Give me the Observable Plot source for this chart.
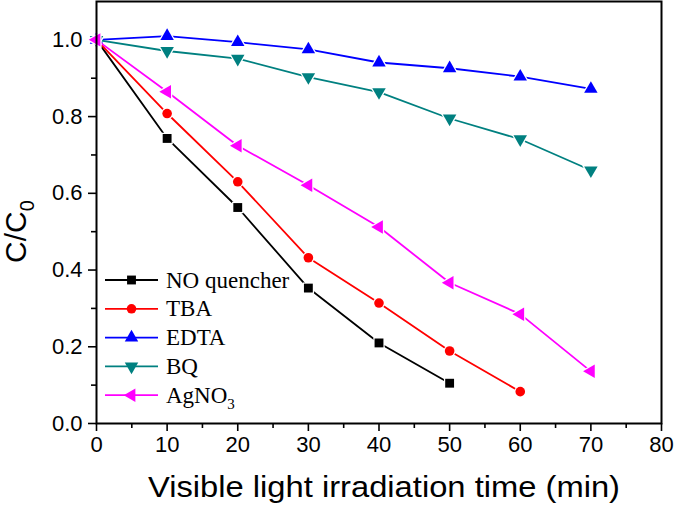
<!DOCTYPE html>
<html>
<head>
<meta charset="utf-8">
<script src="https://cdn.jsdelivr.net/npm/d3@7"></script>
<script src="https://cdn.jsdelivr.net/npm/@observablehq/plot@0.6"></script>
<style>
  html, body { margin: 0; padding: 0; background: white; }
  #chart { width: 675px; height: 510px; }
</style>
</head>
<body>
<div id="chart"></div>
<script>
// ---- data ----
const times = [0, 10, 20, 30, 40, 50, 60, 70];
const seriesNames = ["NO quencher", "TBA", "EDTA", "BQ", "AgNO3"];
const noQuencher = [1.0, 0.743, 0.563, 0.353, 0.210, 0.105];
const tba = [1.0, 0.808, 0.630, 0.432, 0.314, 0.189, 0.083];
const edta = [1.0, 1.010, 0.994, 0.975, 0.941, 0.926, 0.904, 0.872];
const bq = [1.0, 0.971, 0.951, 0.903, 0.864, 0.795, 0.741, 0.660];
const agno3 = [1.0, 0.865, 0.724, 0.621, 0.512, 0.367, 0.285, 0.136];
const xTicks = [0, 10, 20, 30, 40, 50, 60, 70, 80];
const xMinorTicks = [5, 15, 25, 35, 45, 55, 65, 75];
const yTicks = [0.0, 0.2, 0.4, 0.6, 0.8, 1.0];
const yMinorTicks = [0.1, 0.3, 0.5, 0.7, 0.9];
const xTitle = "Visible light irradiation time (min)";

// ---- styles ----
const colors = ["#000000", "#ff0000", "#0000ff", "#008080", "#ff00ff"];
const triDown = {
  draw(ctx, size) {
    const s3 = Math.sqrt(3);
    const y = -Math.sqrt(size / (s3 * 3));
    ctx.moveTo(0, -2 * y);
    ctx.lineTo(-s3 * y, y);
    ctx.lineTo(s3 * y, y);
    ctx.closePath();
  }
};
const triLeft = {
  draw(ctx, size) {
    const s3 = Math.sqrt(3);
    const y = -Math.sqrt(size / (s3 * 3));
    ctx.moveTo(2 * y, 0);
    ctx.lineTo(-y, -s3 * y);
    ctx.lineTo(-y, s3 * y);
    ctx.closePath();
  }
};
const symbols = ["square", "circle", "triangle", triDown, triLeft];
const d3Symbols = [d3.symbolSquare, d3.symbolCircle, d3.symbolTriangle, triDown, triLeft];
const radii = [5.0, 4.8, 5.0, 5.0, 5.0];

const values = [noQuencher, tba, edta, bq, agno3];
const rows = [];
values.forEach((vals, si) => vals.forEach((v, i) => rows.push({series: seriesNames[si], t: times[i], c: v})));

const seriesMarks = [];
seriesNames.forEach((name, si) => {
  const d = rows.filter(r => r.series === name);
  seriesMarks.push(Plot.line(d, {x: "t", y: "c", stroke: colors[si], strokeWidth: 1.8}));
  seriesMarks.push(Plot.dot(d, {x: "t", y: "c", symbol: symbols[si], r: radii[si], fill: colors[si],
    stroke: "white", strokeWidth: 2.5, paintOrder: "stroke"}));
});

const chart = Plot.plot({
  width: 675,
  height: 510,
  marginLeft: 96,
  marginRight: 14,
  marginTop: 1,
  marginBottom: 87,
  style: {fontFamily: "'Liberation Sans', Arial, sans-serif", background: "white", color: "black", overflow: "visible"},
  x: {domain: [0, 80]},
  y: {domain: [0, 1.1]},
  marks: [
    Plot.axisX(xTicks, {tickSize: 8, tickPadding: 5, fontSize: 22, label: null, strokeWidth: 1.6, fill: "black", stroke: "black"}),
    Plot.axisX(xMinorTicks, {tickSize: 5, tickFormat: () => "", label: null, strokeWidth: 1.6, stroke: "black"}),
    Plot.axisY(yTicks, {tickSize: 8, tickPadding: 6, fontSize: 22, label: null, tickFormat: d => d.toFixed(1), strokeWidth: 1.6, fill: "black", stroke: "black"}),
    Plot.axisY(yMinorTicks, {tickSize: 5, tickFormat: () => "", label: null, strokeWidth: 1.6, stroke: "black"}),
    ...seriesMarks,
    Plot.frame({stroke: "black", strokeWidth: 2})
  ]
});
document.getElementById("chart").append(chart);

// ---- titles & legend ----
const svg = d3.select(chart);
svg.append("text")
  .attr("x", 148).attr("y", 497)
  .attr("text-anchor", "start")
  .attr("font-family", "'Liberation Sans', Arial, sans-serif")
  .attr("font-size", 29)
  .attr("textLength", 472).attr("lengthAdjust", "spacingAndGlyphs")
  .attr("fill", "black")
  .text(xTitle);

const yt = svg.append("text")
  .attr("transform", "translate(26,263) rotate(-90)")
  .attr("text-anchor", "start")
  .attr("font-family", "'Liberation Sans', Arial, sans-serif")
  .attr("font-size", 30)
  .attr("fill", "black");
yt.append("tspan").text("C/C");
yt.append("tspan").attr("font-size", 20).attr("dy", 8).text("0");

const lg = svg.append("g").attr("transform", "translate(105,280)");
seriesNames.forEach((name, i) => {
  const g = lg.append("g").attr("transform", `translate(0,${i * 28.8})`);
  g.append("line").attr("x1", 0).attr("x2", 53).attr("y1", 0).attr("y2", 0)
    .attr("stroke", colors[i]).attr("stroke-width", 1.8);
  g.append("path")
    .attr("transform", "translate(26.5,0)")
    .attr("d", d3.symbol().type(d3Symbols[i]).size(Math.PI * radii[i] * radii[i])())
    .attr("fill", colors[i]);
  const t = g.append("text").attr("x", 61).attr("y", 7.5)
    .attr("text-anchor", "start")
    .attr("font-family", "'Liberation Serif', 'Times New Roman', serif")
    .attr("font-size", 23).attr("fill", "black");
  if (name === "AgNO3") {
    t.append("tspan").text("AgNO");
    t.append("tspan").attr("font-size", 15).attr("dy", 6).text("3");
  } else {
    t.text(name);
  }
});
</script>
</body>
</html>
